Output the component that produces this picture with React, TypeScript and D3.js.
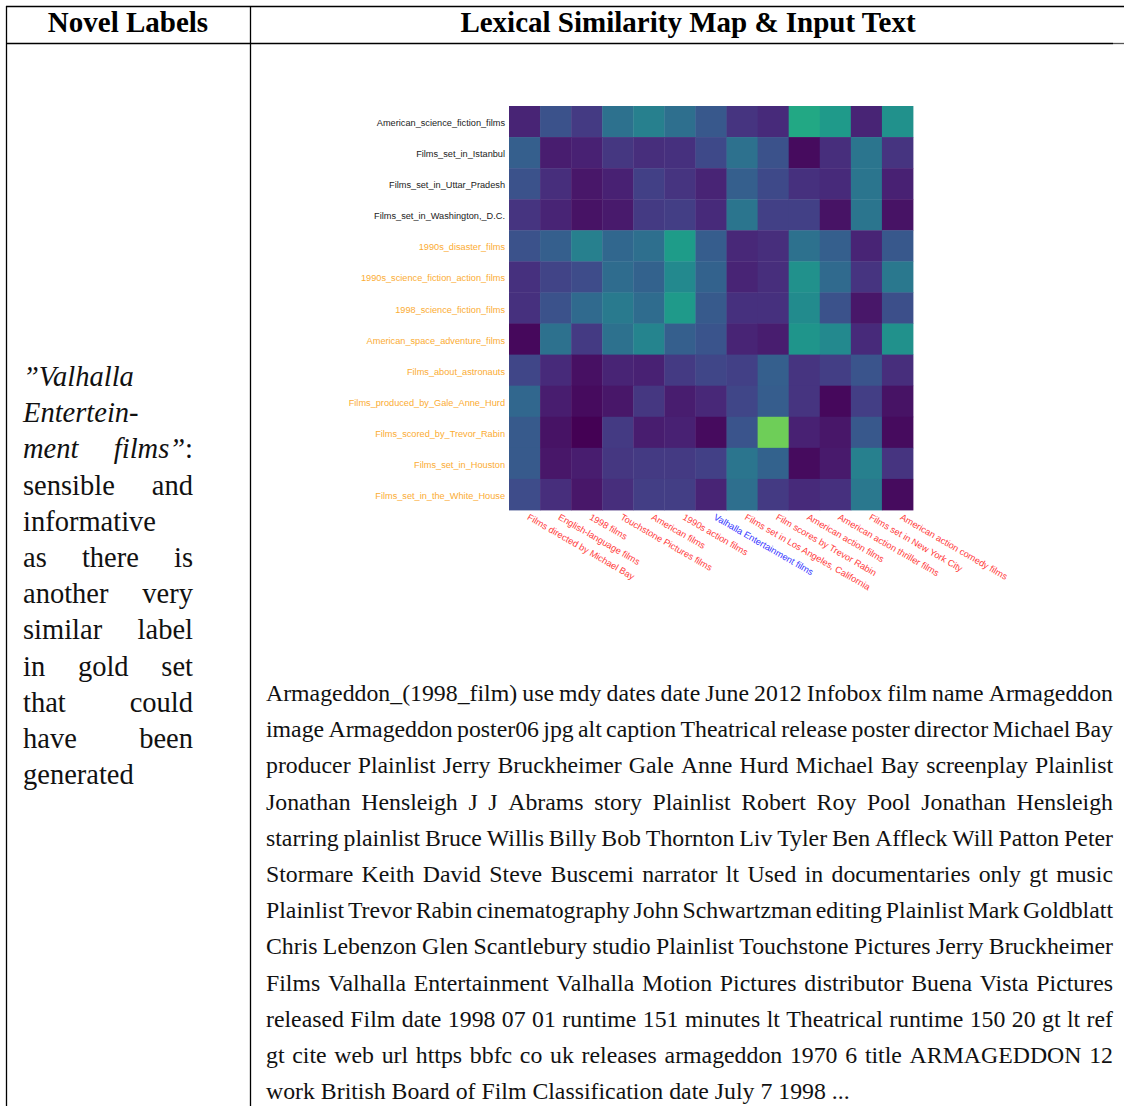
import React from "react";
import * as d3 from "d3";

const width = 1124;
const height = 1106;

const rowLabels = [
  "American_science_fiction_films",
  "Films_set_in_Istanbul",
  "Films_set_in_Uttar_Pradesh",
  "Films_set_in_Washington,_D.C.",
  "1990s_disaster_films",
  "1990s_science_fiction_action_films",
  "1998_science_fiction_films",
  "American_space_adventure_films",
  "Films_about_astronauts",
  "Films_produced_by_Gale_Anne_Hurd",
  "Films_scored_by_Trevor_Rabin",
  "Films_set_in_Houston",
  "Films_set_in_the_White_House",
];
// "novel" rows are generated labels, "gold" rows come from the gold set
const rowKinds = ["novel", "novel", "novel", "novel", "gold", "gold", "gold", "gold", "gold", "gold", "gold", "gold", "gold"];

const colLabels = [
  "Films directed by Michael Bay",
  "English-language films",
  "1998 films",
  "Touchstone Pictures films",
  "American films",
  "1990s action films",
  "Valhalla Entertainment films",
  "Films set in Los Angeles, California",
  "Film scores by Trevor Rabin",
  "American action films",
  "American action thriller films",
  "Films set in New York City",
  "American action comedy films",
];
const colKinds = ["other", "other", "other", "other", "other", "other", "target", "other", "other", "other", "other", "other", "other"];

// similarity, one array per row label
const simValues = [
  [0.10, 0.25, 0.17, 0.37, 0.43, 0.36, 0.27, 0.15, 0.12, 0.60, 0.54, 0.10, 0.50],
  [0.30, 0.08, 0.09, 0.16, 0.13, 0.14, 0.22, 0.37, 0.25, 0.03, 0.13, 0.39, 0.15],
  [0.25, 0.13, 0.06, 0.09, 0.19, 0.15, 0.10, 0.30, 0.22, 0.14, 0.12, 0.39, 0.09],
  [0.15, 0.10, 0.05, 0.07, 0.17, 0.18, 0.12, 0.39, 0.19, 0.19, 0.05, 0.39, 0.05],
  [0.25, 0.30, 0.43, 0.33, 0.36, 0.55, 0.29, 0.11, 0.13, 0.37, 0.30, 0.10, 0.27],
  [0.14, 0.20, 0.23, 0.35, 0.31, 0.47, 0.31, 0.10, 0.13, 0.50, 0.34, 0.15, 0.40],
  [0.14, 0.25, 0.34, 0.41, 0.35, 0.54, 0.28, 0.14, 0.14, 0.48, 0.25, 0.06, 0.24],
  [0.02, 0.37, 0.17, 0.37, 0.45, 0.30, 0.26, 0.10, 0.08, 0.52, 0.47, 0.12, 0.50],
  [0.21, 0.12, 0.04, 0.10, 0.09, 0.17, 0.21, 0.19, 0.30, 0.15, 0.18, 0.26, 0.13],
  [0.33, 0.08, 0.03, 0.06, 0.16, 0.08, 0.11, 0.21, 0.29, 0.15, 0.02, 0.18, 0.05],
  [0.28, 0.05, 0.00, 0.17, 0.08, 0.09, 0.03, 0.26, 0.78, 0.09, 0.06, 0.27, 0.03],
  [0.28, 0.06, 0.08, 0.16, 0.17, 0.17, 0.19, 0.39, 0.31, 0.03, 0.07, 0.43, 0.15],
  [0.23, 0.13, 0.06, 0.13, 0.18, 0.18, 0.10, 0.36, 0.17, 0.12, 0.14, 0.40, 0.03],
];

type Seg = { t: string; it?: boolean };

const leftLines: Seg[][][] = [
  [[{ t: "\u201DValhalla", it: true }]],
  [[{ t: "Entertein-", it: true }]],
  [[{ t: "ment", it: true }], [{ t: "films\u201D", it: true }, { t: ":" }]],
  [[{ t: "sensible" }], [{ t: "and" }]],
  [[{ t: "informative" }]],
  [[{ t: "as" }], [{ t: "there" }], [{ t: "is" }]],
  [[{ t: "another" }], [{ t: "very" }]],
  [[{ t: "similar" }], [{ t: "label" }]],
  [[{ t: "in" }], [{ t: "gold" }], [{ t: "set" }]],
  [[{ t: "that" }], [{ t: "could" }]],
  [[{ t: "have" }], [{ t: "been" }]],
  [[{ t: "generated" }]],
];

const inputText = [
  "Armageddon_(1998_film) use mdy dates date June 2012 Infobox film name Armageddon",
  "image Armageddon poster06 jpg alt caption Theatrical release poster director Michael Bay",
  "producer Plainlist Jerry Bruckheimer Gale Anne Hurd Michael Bay screenplay Plainlist",
  "Jonathan Hensleigh J J Abrams story Plainlist Robert Roy Pool Jonathan Hensleigh",
  "starring plainlist Bruce Willis Billy Bob Thornton Liv Tyler Ben Affleck Will Patton Peter",
  "Stormare Keith David Steve Buscemi narrator lt Used in documentaries only gt music",
  "Plainlist Trevor Rabin cinematography John Schwartzman editing Plainlist Mark Goldblatt",
  "Chris Lebenzon Glen Scantlebury studio Plainlist Touchstone Pictures Jerry Bruckheimer",
  "Films Valhalla Entertainment Valhalla Motion Pictures distributor Buena Vista Pictures",
  "released Film date 1998 07 01 runtime 151 minutes lt Theatrical runtime 150 20 gt lt ref",
  "gt cite web url https bbfc co uk releases armageddon 1970 6 title ARMAGEDDON 12",
  "work British Board of Film Classification date July 7 1998 ...",
];

const serif = '"Liberation Serif", "Times New Roman", serif';
const sans = '"Liberation Sans", Arial, sans-serif';

let ctx: CanvasRenderingContext2D | null = null;
const measure = (text: string, size: number, italic = false) => {
  if (!ctx) ctx = document.createElement("canvas").getContext("2d");
  ctx!.font = `${italic ? "italic " : ""}${size}px ${serif}`;
  return ctx!.measureText(text).width;
};

// lay out one line of words across [x0, x1], justified unless told otherwise
const Justified = ({ words, x0, x1, y, size, justify }: { words: Seg[][]; x0: number; x1: number; y: number; size: number; justify: boolean }) => {
  const widths = words.map((w) => w.map((s) => measure(s.t, size, !!s.it)));
  const total = d3.sum(widths.map((w) => d3.sum(w)));
  const space = measure(" ", size);
  const gap = justify && words.length > 1 ? (x1 - x0 - total) / (words.length - 1) : space;
  const out: JSX.Element[] = [];
  let x = x0;
  words.forEach((w, i) => {
    w.forEach((s, j) => {
      out.push(
        <text key={`${i}-${j}`} x={x} y={y} fontFamily={serif} fontSize={size} fontStyle={s.it ? "italic" : "normal"} fill="#111">
          {s.t}
        </text>
      );
      x += widths[i][j];
    });
    x += gap;
  });
  return <g>{out}</g>;
};

const Heatmap = () => {
  const x = d3.scaleBand<number>().domain(d3.range(colLabels.length)).range([509, 913]);
  const y = d3.scaleBand<number>().domain(d3.range(rowLabels.length)).range([106, 510]);
  const color = (v: number) => d3.interpolateViridis(v);
  return (
    <g>
      {simValues.map((row, r) =>
        row.map((v, c) => (
          <rect key={`${r}-${c}`} x={x(c)} y={y(r)} width={x.bandwidth() + 0.4} height={y.bandwidth() + 0.4} fill={color(v)} />
        ))
      )}
      {rowLabels.map((l, r) => (
        <text key={l} x={505} y={y(r)! + y.bandwidth() / 2 + 4.5} textAnchor="end" fontFamily={sans} fontSize={9.2}
          fill={rowKinds[r] === "gold" ? "#fbac33" : "#222"}>
          {l}
        </text>
      ))}
      {colLabels.map((l, c) => {
        const cx = x(c)! + x.bandwidth() / 2 + 2;
        const cy = 519;
        return (
          <text key={l} transform={`translate(${cx},${cy}) rotate(30)`} fontFamily={sans} fontSize={9.2}
            fill={colKinds[c] === "target" ? "#3535ff" : "#ff3b3b"}>
            {l}
          </text>
        );
      })}
    </g>
  );
};

const App = () => {
  const leftY = d3.range(leftLines.length).map((i) => 386 + i * 36.2);
  const textY = d3.range(inputText.length).map((i) => 701 + i * 36.2);
  return (
    <svg width={width} height={height} style={{ position: "absolute", left: 0, top: 0, background: "#fff" }}>
      <rect width={width} height={height} fill="#fff" />
      {/* table rules */}
      <line x1={6} x2={1124} y1={6.5} y2={6.5} stroke="#000" strokeWidth={1.3} />
      <line x1={6} x2={1113} y1={43.5} y2={43.5} stroke="#000" strokeWidth={1.3} />
      <line x1={1113} x2={1124} y1={43.5} y2={43.5} stroke="#555" strokeWidth={1.3} />
      <line x1={6.5} x2={6.5} y1={6} y2={height} stroke="#000" strokeWidth={1.3} />
      <line x1={250.5} x2={250.5} y1={6} y2={height} stroke="#000" strokeWidth={1.3} />
      <text x={128} y={32} textAnchor="middle" fontFamily={serif} fontWeight="bold" fontSize={29}>Novel Labels</text>
      <text x={688} y={32} textAnchor="middle" fontFamily={serif} fontWeight="bold" fontSize={29}>Lexical Similarity Map &amp; Input Text</text>

      {leftLines.map((words, i) => (
        <Justified key={i} words={words} x0={23} x1={193} y={leftY[i]} size={28.5} justify={words.length > 1} />
      ))}

      <Heatmap />

      {inputText.map((line, i) => (
        <Justified key={i} words={line.split(" ").map((t) => [{ t }])} x0={266} x1={1113} y={textY[i]} size={23.8}
          justify={i < inputText.length - 1} />
      ))}
    </svg>
  );
};

export default App;
